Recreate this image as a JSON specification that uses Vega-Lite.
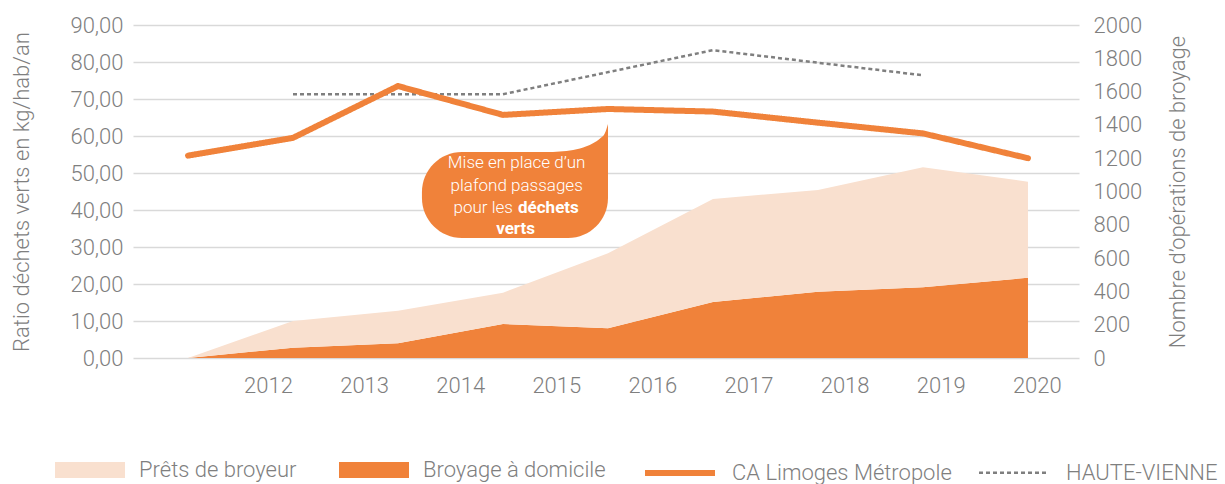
{
  "$schema": "https://vega.github.io/schema/vega-lite/v6.json",
  "width": 946,
  "height": 333,
  "autosize": {"type": "none"},
  "padding": {"left": 133, "top": 25, "right": 146, "bottom": 126},
  "background": "white",
  "config": {
    "view": {"stroke": null},
    "font": "Roboto",
    "axis": {
      "labelFont": "Roboto",
      "titleFont": "Roboto",
      "labelColor": "#7f7f7f",
      "titleColor": "#7f7f7f",
      "labelFontSize": 22,
      "titleFontSize": 22,
      "labelFontWeight": 300,
      "titleFontWeight": 300,
      "ticks": false,
      "domain": false,
      "grid": false,
      "labelOverlap": false
    },
    "legend": {
      "labelFont": "Roboto",
      "labelFontSize": 22,
      "labelFontWeight": 300,
      "labelColor": "#7f7f7f",
      "labelLimit": 400
    }
  },
  "datasets": {
    "areas": [
      {"year": 2012, "series": "Broyage à domicile", "value": 0},
      {"year": 2013, "series": "Broyage à domicile", "value": 62},
      {"year": 2014, "series": "Broyage à domicile", "value": 88},
      {"year": 2015, "series": "Broyage à domicile", "value": 204},
      {"year": 2016, "series": "Broyage à domicile", "value": 178},
      {"year": 2017, "series": "Broyage à domicile", "value": 336},
      {"year": 2018, "series": "Broyage à domicile", "value": 398},
      {"year": 2019, "series": "Broyage à domicile", "value": 425},
      {"year": 2020, "series": "Broyage à domicile", "value": 482},
      {"year": 2012, "series": "Prêts de broyeur", "value": 0},
      {"year": 2013, "series": "Prêts de broyeur", "value": 160},
      {"year": 2014, "series": "Prêts de broyeur", "value": 196},
      {"year": 2015, "series": "Prêts de broyeur", "value": 188},
      {"year": 2016, "series": "Prêts de broyeur", "value": 451},
      {"year": 2017, "series": "Prêts de broyeur", "value": 619},
      {"year": 2018, "series": "Prêts de broyeur", "value": 611},
      {"year": 2019, "series": "Prêts de broyeur", "value": 720},
      {"year": 2020, "series": "Prêts de broyeur", "value": 577}
    ],
    "caLine": [
      {"year": 2012, "series": "CA Limoges Métropole", "ratio": 54.7},
      {"year": 2013, "series": "CA Limoges Métropole", "ratio": 59.5},
      {"year": 2014, "series": "CA Limoges Métropole", "ratio": 73.5},
      {"year": 2015, "series": "CA Limoges Métropole", "ratio": 65.7},
      {"year": 2016, "series": "CA Limoges Métropole", "ratio": 67.3},
      {"year": 2017, "series": "CA Limoges Métropole", "ratio": 66.6},
      {"year": 2018, "series": "CA Limoges Métropole", "ratio": 63.6},
      {"year": 2019, "series": "CA Limoges Métropole", "ratio": 60.7},
      {"year": 2020, "series": "CA Limoges Métropole", "ratio": 54.0}
    ],
    "hvLine": [
      {"year": 2013, "series": "HAUTE-VIENNE", "ratio": 71.3},
      {"year": 2015, "series": "HAUTE-VIENNE", "ratio": 71.3},
      {"year": 2017, "series": "HAUTE-VIENNE", "ratio": 83.2},
      {"year": 2019, "series": "HAUTE-VIENNE", "ratio": 76.4}
    ],
    "bubble": [{"xa": 2014.228, "xb": 2016.0, "ya": 32.43, "yb": 55.68}],
    "tail": [
      {"x": 2015.476, "y": 55.68},
      {"x": 2015.733, "y": 56.65},
      {"x": 2015.857, "y": 58.05},
      {"x": 2015.924, "y": 59.30},
      {"x": 2015.971, "y": 60.78},
      {"x": 2016.0, "y": 63.24}
    ],
    "notesCenter": [
      {"text": "Mise en place d’un", "x": 2015.13, "y": 52.7},
      {"text": "plafond passages", "x": 2015.13, "y": 46.5}
    ],
    "notesRight": [
      {"text": "pour les", "x": 2015.095, "y": 40.5}
    ],
    "notesBold": [
      {"text": "déchets", "x": 2015.143, "y": 40.5},
      {"text": "verts", "x": 2014.935, "y": 34.9}
    ]
  },
  "layer": [
    {
      "data": {"name": "areas"},
      "mark": {"type": "area", "opacity": 1},
      "encoding": {
        "x": {"field": "year", "type": "quantitative", "scale": {"domain": [2011.476, 2020.486], "nice": false, "zero": false}, "axis": null},
        "y": {
          "field": "value", "type": "quantitative", "stack": "zero",
          "scale": {"domain": [0, 2000], "nice": false},
          "title": "Nombre d’opérations de broyage",
          "axis": {"orient": "right", "values": [0, 200, 400, 600, 800, 1000, 1200, 1400, 1600, 1800, 2000], "format": "d", "labelPadding": 14, "titleAngle": 270, "titlePadding": 48}
        },
        "color": {
          "field": "series", "type": "nominal",
          "scale": {"domain": ["Prêts de broyeur", "Broyage à domicile"], "range": ["#F9E0CF", "#F0823A"]},
          "legend": {
            "orient": "none", "legendX": -78, "legendY": 410, "direction": "horizontal", "columns": 2,
            "title": null, "symbolSize": 4900, "symbolType": "M-1,-0.23H1V0.23H-1Z", "symbolStrokeWidth": 0,
            "labelOffset": 14, "columnPadding": 42
          }
        },
        "order": {"field": "series", "sort": "ascending"}
      }
    },
    {
      "layer": [
        {
          "data": {"name": "bubble"},
          "mark": {"type": "rect", "color": "#F0823A", "cornerRadiusTopLeft": 40, "cornerRadiusBottomLeft": 40, "cornerRadiusBottomRight": 40, "cornerRadiusTopRight": 0},
          "encoding": {
            "x": {"field": "xa", "type": "quantitative", "scale": {"domain": [2011.476, 2020.486], "nice": false, "zero": false}, "axis": null},
            "x2": {"field": "xb"},
            "y": {"field": "ya", "type": "quantitative", "scale": {"domain": [0, 90], "nice": false}, "title": "Ratio déchets verts en kg/hab/an",
              "axis": {"orient": "left", "values": [0, 10, 20, 30, 40, 50, 60, 70, 80, 90], "labelExpr": "replace(format(datum.value, '.2f'), '.', ',')", "labelPadding": 10, "titlePadding": 36, "grid": true, "gridColor": "#D9D9D9", "gridWidth": 1.5}},
            "y2": {"field": "yb"}
          }
        },
        {
          "data": {"name": "tail"},
          "mark": {"type": "area", "color": "#F0823A", "interpolate": "monotone"},
          "encoding": {
            "x": {"field": "x", "type": "quantitative", "scale": {"domain": [2011.476, 2020.486], "nice": false, "zero": false}, "axis": null},
            "y": {"field": "y", "type": "quantitative", "scale": {"domain": [0, 90], "nice": false}, "title": "Ratio déchets verts en kg/hab/an",
              "axis": {"orient": "left", "values": [0, 10, 20, 30, 40, 50, 60, 70, 80, 90], "labelExpr": "replace(format(datum.value, '.2f'), '.', ',')", "labelPadding": 10, "titlePadding": 36, "grid": true, "gridColor": "#D9D9D9", "gridWidth": 1.5}},
            "y2": {"datum": 55.68}
          }
        },
        {
          "data": {"name": "notesCenter"},
          "mark": {"type": "text", "color": "white", "font": "Roboto", "fontSize": 17, "fontWeight": 300, "align": "center", "baseline": "middle"},
          "encoding": {
            "x": {"field": "x", "type": "quantitative", "scale": {"domain": [2011.476, 2020.486], "nice": false, "zero": false}, "axis": null},
            "y": {"field": "y", "type": "quantitative", "scale": {"domain": [0, 90], "nice": false}, "title": "Ratio déchets verts en kg/hab/an",
              "axis": {"orient": "left", "values": [0, 10, 20, 30, 40, 50, 60, 70, 80, 90], "labelExpr": "replace(format(datum.value, '.2f'), '.', ',')", "labelPadding": 10, "titlePadding": 36, "grid": true, "gridColor": "#D9D9D9", "gridWidth": 1.5}},
            "text": {"field": "text"}
          }
        },
        {
          "data": {"name": "notesRight"},
          "mark": {"type": "text", "color": "white", "font": "Roboto", "fontSize": 17, "fontWeight": 300, "align": "right", "baseline": "middle"},
          "encoding": {
            "x": {"field": "x", "type": "quantitative", "scale": {"domain": [2011.476, 2020.486], "nice": false, "zero": false}, "axis": null},
            "y": {"field": "y", "type": "quantitative", "scale": {"domain": [0, 90], "nice": false}, "title": "Ratio déchets verts en kg/hab/an",
              "axis": {"orient": "left", "values": [0, 10, 20, 30, 40, 50, 60, 70, 80, 90], "labelExpr": "replace(format(datum.value, '.2f'), '.', ',')", "labelPadding": 10, "titlePadding": 36, "grid": true, "gridColor": "#D9D9D9", "gridWidth": 1.5}},
            "text": {"field": "text"}
          }
        },
        {
          "data": {"name": "notesBold"},
          "mark": {"type": "text", "color": "white", "font": "Roboto", "fontSize": 17, "fontWeight": "bold", "align": "left", "baseline": "middle"},
          "encoding": {
            "x": {"field": "x", "type": "quantitative", "scale": {"domain": [2011.476, 2020.486], "nice": false, "zero": false}, "axis": null},
            "y": {"field": "y", "type": "quantitative", "scale": {"domain": [0, 90], "nice": false}, "title": "Ratio déchets verts en kg/hab/an",
              "axis": {"orient": "left", "values": [0, 10, 20, 30, 40, 50, 60, 70, 80, 90], "labelExpr": "replace(format(datum.value, '.2f'), '.', ',')", "labelPadding": 10, "titlePadding": 36, "grid": true, "gridColor": "#D9D9D9", "gridWidth": 1.5}},
            "text": {"field": "text"}
          }
        },
        {
          "data": {"name": "hvLine"},
          "mark": {"type": "line", "strokeCap": "butt"},
          "encoding": {
            "x": {"field": "year", "type": "quantitative", "scale": {"domain": [2011.476, 2020.486], "nice": false, "zero": false}, "axis": null},
            "y": {
              "field": "ratio", "type": "quantitative",
              "scale": {"domain": [0, 90], "nice": false},
              "title": "Ratio déchets verts en kg/hab/an",
              "axis": {"orient": "left", "values": [0, 10, 20, 30, 40, 50, 60, 70, 80, 90], "labelExpr": "replace(format(datum.value, '.2f'), '.', ',')", "labelPadding": 10, "titlePadding": 36, "grid": true, "gridColor": "#D9D9D9", "gridWidth": 1.5}
            },
            "color": {
              "field": "series", "type": "nominal",
              "scale": {"domain": ["CA Limoges Métropole", "HAUTE-VIENNE"], "range": ["#F0823A", "#7F7F7F"]},
              "legend": {
                "orient": "none", "legendX": 509, "legendY": 410, "direction": "horizontal", "columns": 2,
                "title": null, "symbolSize": 4900, "symbolType": "stroke",
                "labelOffset": 14, "columnPadding": 22
              }
            },
            "strokeDash": {"field": "series", "type": "nominal", "scale": {"domain": ["CA Limoges Métropole", "HAUTE-VIENNE"], "range": [[1, 0], [4, 3]]}},
            "strokeWidth": {"field": "series", "type": "nominal", "scale": {"domain": ["CA Limoges Métropole", "HAUTE-VIENNE"], "range": [6, 2.5]}}
          }
        },
        {
          "data": {"name": "caLine"},
          "mark": {"type": "line", "strokeCap": "round", "strokeJoin": "round"},
          "encoding": {
            "x": {"field": "year", "type": "quantitative", "scale": {"domain": [2011.476, 2020.486], "nice": false, "zero": false}, "axis": null},
            "y": {
              "field": "ratio", "type": "quantitative",
              "scale": {"domain": [0, 90], "nice": false},
              "title": "Ratio déchets verts en kg/hab/an",
              "axis": {"orient": "left", "values": [0, 10, 20, 30, 40, 50, 60, 70, 80, 90], "labelExpr": "replace(format(datum.value, '.2f'), '.', ',')", "labelPadding": 10, "titlePadding": 36, "grid": true, "gridColor": "#D9D9D9", "gridWidth": 1.5}
            },
            "color": {
              "field": "series", "type": "nominal",
              "scale": {"domain": ["CA Limoges Métropole", "HAUTE-VIENNE"], "range": ["#F0823A", "#7F7F7F"]},
              "legend": {
                "orient": "none", "legendX": 509, "legendY": 410, "direction": "horizontal", "columns": 2,
                "title": null, "symbolSize": 4900, "symbolType": "stroke",
                "labelOffset": 14, "columnPadding": 22
              }
            },
            "strokeDash": {"field": "series", "type": "nominal", "scale": {"domain": ["CA Limoges Métropole", "HAUTE-VIENNE"], "range": [[1, 0], [4, 3]]}},
            "strokeWidth": {"field": "series", "type": "nominal", "scale": {"domain": ["CA Limoges Métropole", "HAUTE-VIENNE"], "range": [6, 2.5]}}
          }
        }
      ]
    },
    {
      "data": {"name": "caLine"},
      "mark": {"type": "rule", "strokeOpacity": 0},
      "encoding": {
        "x": {
          "field": "year", "type": "quantitative",
          "scale": {"domain": [2010.595, 2020.439], "nice": false, "zero": false},
          "axis": {"orient": "bottom", "values": [2012, 2013, 2014, 2015, 2016, 2017, 2018, 2019, 2020], "format": "d", "labelPadding": 17, "title": null, "labelFlush": false}
        }
      }
    }
  ],
  "resolve": {"scale": {"x": "independent", "y": "independent", "color": "independent", "strokeDash": "independent", "strokeWidth": "independent"}}
}
